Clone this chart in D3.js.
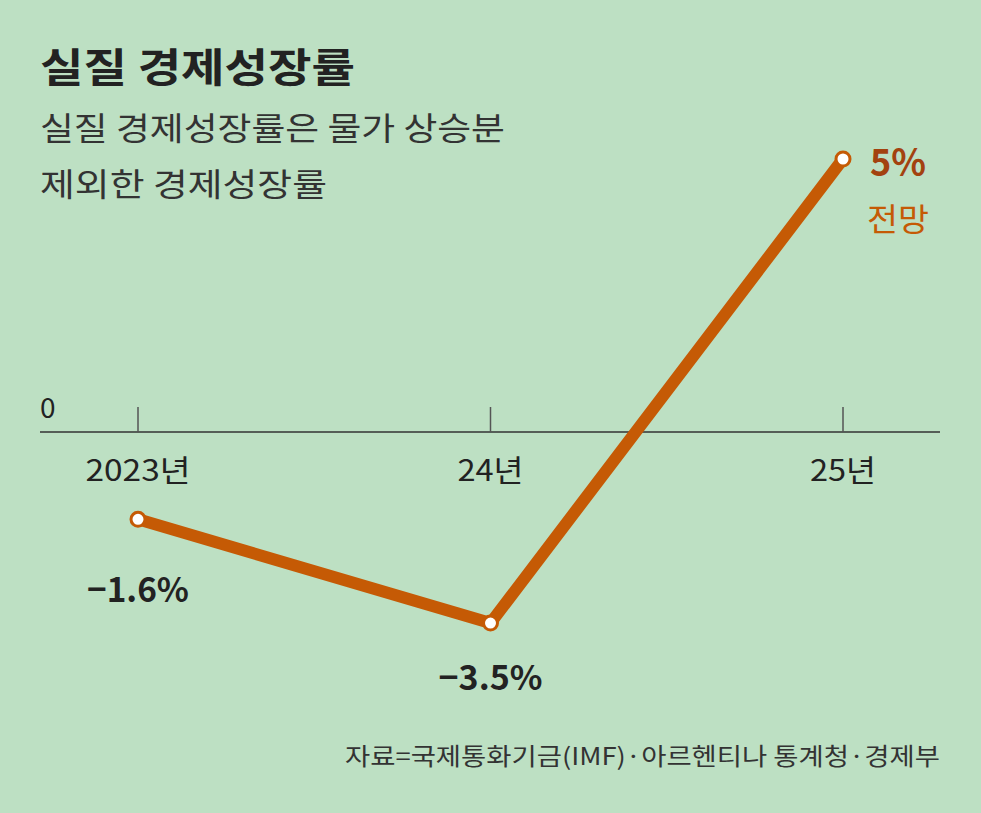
<!DOCTYPE html>
<html><head><meta charset="utf-8">
<script src="https://cdn.jsdelivr.net/npm/d3@7"></script>
<style>body{margin:0;background:#bde0c3;font-family:"Noto Sans CJK KR",sans-serif;}</style>
</head><body><div class="Canvas"></div>
<script>
const years = ['2023년', '24년', '25년'];
const values = [-1.6, -3.5, 5];
const valueLabels = ['−1.6%', '−3.5%', '5%'];

const width = 981, height = 813;
const svg = d3.select('.Canvas').append('svg').attr('width', width).attr('height', height);
svg.append('rect').attr('width', width).attr('height', height).attr('fill', '#bde0c3');

const x = d3.scalePoint().domain(years).range([138, 843]);
const y = d3.scaleLinear().domain([0, 5]).range([432, 159]);

const label = (tx, ty, size, txt, opts = {}) => {
  const t = svg.append('text').attr('x', tx).attr('y', ty).attr('font-size', size)
    .attr('fill', opts.fill || '#222').attr('font-weight', opts.bold ? 'bold' : 'normal')
    .attr('text-anchor', opts.anchor || 'start').text(txt);
  if (opts.len) t.attr('textLength', opts.len).attr('lengthAdjust', 'spacingAndGlyphs');
  return t;
};

label(40, 82, 40, '실질 경제성장률', { bold: true, len: 315 });
label(40, 140, 32, '실질 경제성장률은 물가 상승분', { fill: '#333', len: 465 });
label(40, 196, 32, '제외한 경제성장률', { fill: '#333', len: 287 });

svg.append('line').attr('x1', 40).attr('x2', 940).attr('y1', y(0)).attr('y2', y(0)).attr('stroke', '#333').attr('stroke-width', 1.5);
label(40, 418, 28, '0');

years.forEach((yr) => {
  svg.append('line').attr('x1', x(yr)).attr('x2', x(yr)).attr('y1', 407).attr('y2', y(0)).attr('stroke', '#555').attr('stroke-width', 1.5);
  label(x(yr), 481, 30, yr, { anchor: 'middle', len: yr.length > 3 ? 105 : 66 });
});

const line = d3.line().x((d, i) => x(years[i])).y((d) => y(d));
svg.append('path').datum(values).attr('d', line).attr('fill', 'none').attr('stroke', '#c55a05').attr('stroke-width', 12);

svg.selectAll('circle.pt').data(values).enter().append('circle')
  .attr('cx', (d, i) => x(years[i])).attr('cy', (d) => y(d)).attr('r', 7)
  .attr('fill', '#fff').attr('stroke', '#c55a05').attr('stroke-width', 3);

label(x(years[0]), y(values[0]) + 83, 34, valueLabels[0], { anchor: 'middle', bold: true, len: 102 });
label(x(years[1]), y(values[1]) + 67, 34, valueLabels[1], { anchor: 'middle', bold: true, len: 104 });
label(898, y(values[2]) + 17, 38, valueLabels[2], { anchor: 'middle', bold: true, fill: '#a3420f', len: 56 });
label(898, y(values[2]) + 72, 32, '전망', { anchor: 'middle', fill: '#c55a05', len: 62 });

label(940, 765, 24, '자료=국제통화기금(IMF)·아르헨티나 통계청·경제부', { anchor: 'end', fill: '#333', len: 595 });
</script></body></html>
